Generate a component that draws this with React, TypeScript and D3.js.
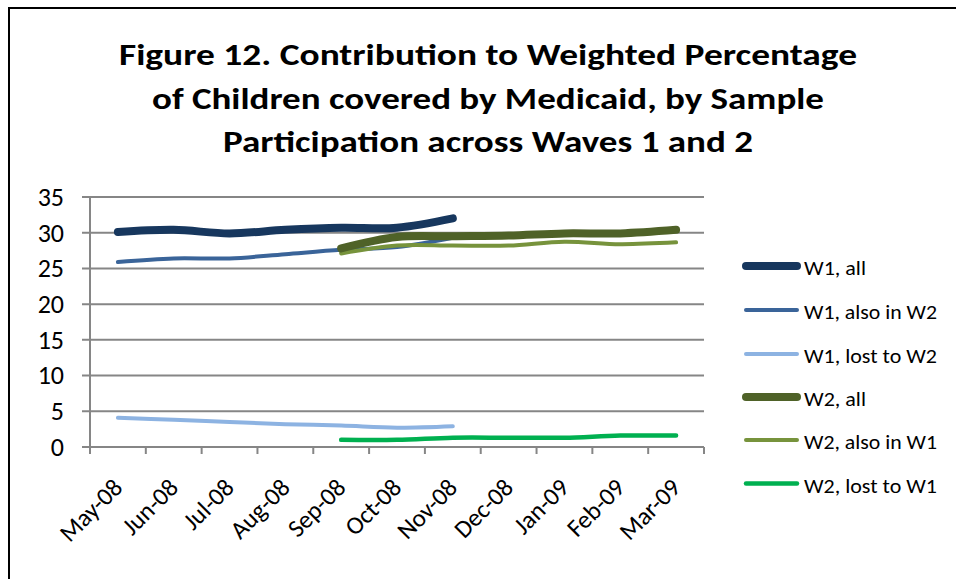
import React, { useEffect, useRef } from "react";
import * as d3 from "d3";

const months = ["May-08", "Jun-08", "Jul-08", "Aug-08", "Sep-08", "Oct-08", "Nov-08", "Dec-08", "Jan-09", "Feb-09", "Mar-09"];
const yTicks = [0, 5, 10, 15, 20, 25, 30, 35];

const w1All = [30.1, 30.4, 29.9, 30.4, 30.7, 30.7, 32.0, null, null, null, null];
const w1AlsoW2 = [25.9, 26.4, 26.4, 27.0, 27.6, 28.0, 29.3, null, null, null, null];
const w1Lost = [4.1, 3.8, 3.5, 3.2, 3.0, 2.7, 2.9, null, null, null, null];
const w2All = [null, null, null, null, 27.8, 29.4, 29.5, 29.6, 29.9, 29.9, 30.4];
const w2AlsoW1 = [null, null, null, null, 27.1, 28.2, 28.2, 28.2, 28.75, 28.4, 28.65];
const w2Lost = [null, null, null, null, 1.0, 1.0, 1.3, 1.3, 1.3, 1.6, 1.6];

const seriesNames = ["W1, all", "W1, also in W2", "W1, lost to W2", "W2, all", "W2, also in W1", "W2, lost to W1"];
const seriesValues = [w1All, w1AlsoW2, w1Lost, w2All, w2AlsoW1, w2Lost];
const seriesColors = ["#17375E", "#3A6499", "#8DB3E2", "#4F6228", "#77933C", "#00B050"];
const seriesWidths = [8, 4, 4, 8, 4, 4.5];
const drawOrder = [1, 2, 0, 4, 5, 3];

const titleLines = ["Figure 12. Contribution to Weighted Percentage", "of Children covered by Medicaid, by Sample", "Participation across Waves 1 and 2"];
const titleWidths = [738, 672, 530];

export default function App() {
  const ref = useRef<SVGSVGElement>(null);

  useEffect(() => {
    const svg = d3.select(ref.current);
    svg.selectAll("*").remove();
    const font = "Carlito, Calibri, Lato, sans-serif";

    svg.append("rect").attr("x", 0).attr("y", 0).attr("width", 956).attr("height", 579).attr("fill", "#fff");
    // chart border
    svg.append("path").attr("d", "M9,579 V8 H956").attr("fill", "none").attr("stroke", "#000").attr("stroke-width", 2);

    // title
    const cx = 488;
    titleLines.forEach((t, i) => {
      svg.append("text").attr("x", cx).attr("y", 65 + i * 43.5)
        .attr("text-anchor", "middle").attr("font-family", font).attr("font-weight", "bold")
        .attr("font-size", 31).attr("fill", "#000")
        .attr("textLength", titleWidths[i]).attr("lengthAdjust", "spacingAndGlyphs")
        .text(t);
    });

    const x = d3.scaleBand<string>().domain(months).range([90, 704]);
    const y = d3.scaleLinear().domain([0, 35]).range([447, 197]);
    const grid = "#868686";

    // gridlines
    yTicks.forEach((v) => {
      svg.append("line").attr("x1", 82).attr("x2", 704).attr("y1", y(v)).attr("y2", y(v))
        .attr("stroke", grid).attr("stroke-width", 2);
      svg.append("text").attr("x", 64).attr("y", y(v)).attr("dy", "0.34em")
        .attr("text-anchor", "end").attr("font-family", font).attr("font-size", 26).attr("fill", "#000")
        .text(String(v));
    });
    // y axis
    svg.append("line").attr("x1", 90).attr("x2", 90).attr("y1", y(35)).attr("y2", y(0) + 7)
      .attr("stroke", grid).attr("stroke-width", 2);
    // x ticks
    const edges = months.map((m) => x(m) as number).concat([704]);
    edges.forEach((e) => {
      svg.append("line").attr("x1", e).attr("x2", e).attr("y1", y(0)).attr("y2", y(0) + 7)
        .attr("stroke", grid).attr("stroke-width", 2);
    });
    // x labels
    months.forEach((m) => {
      const px = (x(m) as number) + x.bandwidth() / 2 + 6;
      svg.append("text").attr("transform", `translate(${px},${y(0) + 42}) rotate(-45)`)
        .attr("text-anchor", "end").attr("font-family", font).attr("font-size", 25).attr("fill", "#000")
        .text(m);
    });

    const line = d3.line<number | null>()
      .defined((d) => d !== null)
      .x((_, i) => (x(months[i]) as number) + x.bandwidth() / 2)
      .y((d) => y(d as number))
      .curve(d3.curveCatmullRom.alpha(0.5));

    drawOrder.forEach((si) => {
      svg.append("path").attr("d", line(seriesValues[si]) as string)
        .attr("fill", "none").attr("stroke", seriesColors[si]).attr("stroke-width", seriesWidths[si])
        .attr("stroke-linecap", "round").attr("stroke-linejoin", "round");
    });

    // legend
    const legendYs = [266, 310, 354, 397, 440, 483.5];
    const legendWidths = [62, 133, 133, 62, 133, 133];
    seriesNames.forEach((n, i) => {
      const ly = legendYs[i];
      svg.append("line").attr("x1", 746).attr("x2", 797).attr("y1", ly).attr("y2", ly)
        .attr("stroke", seriesColors[i]).attr("stroke-width", seriesWidths[i]).attr("stroke-linecap", "round");
      svg.append("text").attr("x", 804).attr("y", ly + 9)
        .attr("font-family", font).attr("font-size", 21).attr("fill", "#000")
        .attr("textLength", legendWidths[i]).attr("lengthAdjust", "spacingAndGlyphs")
        .text(n);
    });
  }, []);

  return (
    <svg ref={ref} width={956} height={579} style={{ position: "absolute", left: 0, top: 0 }} />
  );
}
